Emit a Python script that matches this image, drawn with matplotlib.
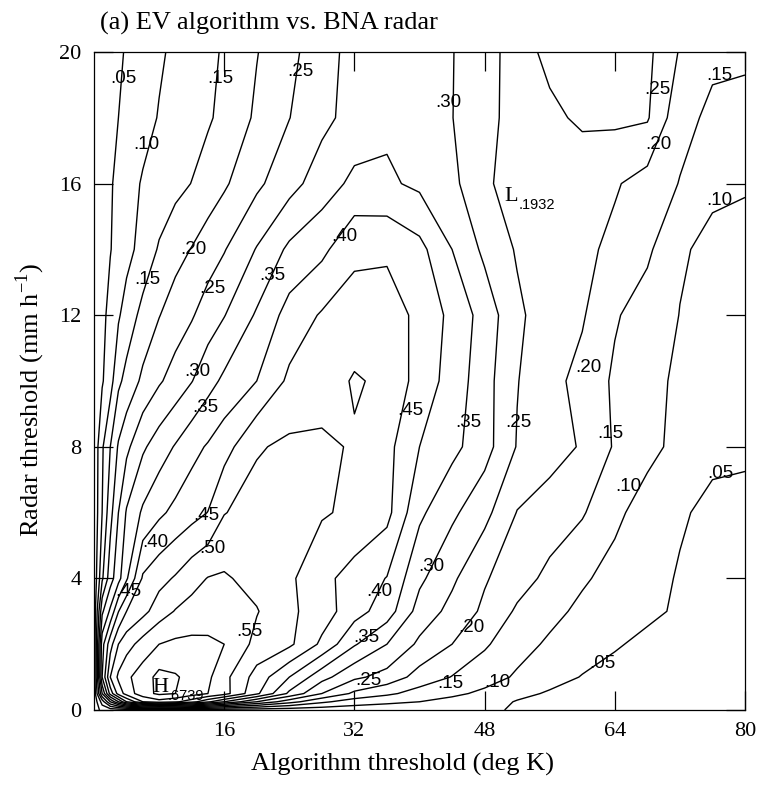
import matplotlib
matplotlib.use("Agg")
import numpy as np
import matplotlib.pyplot as plt

# ---- data ---------------------------------------------------------------
# columns: algorithm threshold (deg K), rows: radar threshold (mm/h)
algo_thresh = [0, 1, 2, 3, 4, 6, 8, 10, 12, 14, 16, 20, 24, 28, 32, 36, 40,
               44, 48, 52, 56, 60, 64, 68, 72, 76, 80]
radar_thresh = [0, 0.25, 0.5, 1, 2, 3, 4, 6, 8, 10, 12, 14, 16, 18, 20]

# skill score, one row per radar threshold (bottom to top)
score = [
    [.01, .07, .07, .07, .07, .07, .07, .07, .07, .07, .07, .07, .07, .07, .07, .07, .07, .07, .058, .045, .035, .03, .03, .03, .03, .03, .03],
    [.01, .12, .25, .35, .45, .55, .58, .56, .52, .46, .40, .30, .22, .16, .125, .11, .10, .085, .07, .047, .04, .035, .032, .03, .03, .03, .03],
    [.01, .25, .42, .52, .57, .63, .66, .65, .625, .60, .57, .46, .34, .25, .19, .16, .13, .11, .09, .062, .045, .04, .035, .032, .03, .03, .03],
    [.01, .35, .50, .56, .59, .625, .665, .655, .635, .61, .565, .48, .40, .318, .26, .232, .18, .148, .12, .094, .067, .048, .04, .035, .032, .03, .03],
    [.01, .33, .43, .50, .53, .57, .60, .61, .612, .608, .60, .535, .51, .44, .355, .30, .24, .20, .157, .117, .093, .071, .053, .043, .036, .031, .03],
    [.01, .24, .31, .398, .45, .485, .525, .553, .568, .578, .58, .553, .51, .475, .42, .375, .28, .235, .19, .143, .113, .09, .072, .056, .046, .033, .03],
    [.01, .142, .228, .283, .343, .457, .484, .505, .532, .552, .556, .533, .509, .464, .43, .398, .31, .259, .205, .17, .138, .106, .085, .062, .047, .033, .03],
    [.01, .10, .183, .25, .305, .358, .39, .413, .432, .451, .498, .52, .52, .505, .49, .465, .36, .31, .265, .198, .175, .155, .11, .08, .054, .042, .04],
    [.01, .093, .15, .206, .238, .292, .325, .354, .384, .405, .43, .495, .51, .51, .495, .465, .40, .364, .32, .247, .222, .195, .145, .113, .087, .058, .056],
    [.01, .045, .08, .14, .165, .211, .244, .27, .298, .332, .36, .40, .46, .475, .505, .49, .43, .38, .32, .252, .215, .185, .142, .117, .09, .078, .07],
    [.01, .037, .065, .094, .122, .165, .198, .225, .245, .274, .298, .356, .42, .455, .47, .47, .44, .386, .33, .26, .222, .205, .155, .127, .099, .09, .08],
    [.01, .03, .048, .066, .083, .119, .155, .182, .202, .225, .247, .303, .36, .388, .44, .443, .415, .35, .289, .245, .23, .212, .188, .159, .105, .09, .085],
    [.01, .03, .045, .062, .078, .105, .121, .136, .151, .172, .193, .24, .282, .325, .362, .358, .34, .31, .267, .205, .215, .22, .205, .18, .148, .108, .104],
    [.01, .023, .037, .05, .061, .082, .103, .116, .13, .144, .163, .208, .249, .287, .318, .34, .328, .301, .268, .228, .24, .258, .26, .255, .165, .14, .137],
    [.01, .02, .032, .043, .054, .073, .093, .11, .124, .139, .155, .198, .235, .282, .315, .33, .325, .302, .268, .23, .262, .27, .27, .262, .196, .16, .157],
]

levels = [.05, .10, .15, .20, .25, .30, .35, .40, .45, .50, .55, .60, .65]

# contour labels where the original put them: level, x, y
label_level = [.05, .15, .25, .10, .30, .25, .20, .15, .10,
               .20, .15, .25, .35, .40, .30, .35, .45, .35, .25, .20, .15, .10, .05,
               .45, .40, .50, .45, .55, .40, .30, .35, .20, .25, .15, .10, .05]
label_x = [3.6, 15.5, 25.4, 6.4, 43.6, 69.2, 69.3, 76.9, 76.9,
           12.2, 6.6, 14.6, 21.9, 30.8, 12.7, 13.7, 38.9, 46.0, 52.1, 60.8, 63.5, 65.7, 77.0,
           13.8, 7.5, 14.5, 4.2, 19.1, 35.1, 41.4, 33.5, 46.4, 33.7, 43.8, 49.6, 62.5]
label_y = [19.2, 19.2, 19.4, 17.2, 18.45, 18.85, 17.2, 19.3, 15.5,
           14.0, 13.1, 12.8, 13.2, 14.4, 10.3, 9.2, 9.1, 8.75, 8.75, 10.4, 8.4, 6.8, 7.2,
           5.9, 5.1, 4.9, 3.6, 2.4, 3.6, 4.35, 2.2, 2.5, 0.9, 0.8, 0.85, 1.4]

# extremes marked on the original: letter, x, y, value
extremes = [("H", 8.1, 0.67, .6739), ("L", 51.3, 15.6, .1932)]

x_ticks = [16, 32, 48, 64, 80]
y_ticks = [0, 4, 8, 12, 16, 20]

# ---- plot ------------------------------------------------------------------
serif = "Liberation Serif"
sans = "Liberation Sans"

fig = plt.figure(figsize=(7.63, 7.85), dpi=100)
ax = fig.add_axes([94 / 763, 75 / 785, 651 / 763, 658 / 785])

X, Y = np.meshgrid(algo_thresh, radar_thresh)
Z = np.array(score)
ax.contour(X, Y, Z, levels=levels, colors="black", linewidths=1.0)

for lev, lx, ly in zip(label_level, label_x, label_y):
    ax.text(lx, ly, f"{lev:.2f}"[1:], ha="center", va="center",
            fontsize=13.5, family=sans)

for letter, ex, ey, val in extremes:
    ax.text(ex, ey, letter, ha="center", va="center", fontsize=16, family=serif)
    ax.text(ex + 0.9, ey - 0.25, f"{val:.4f}"[1:], ha="left", va="center",
            fontsize=10.5, family=sans)

ax.set_xlim(0, 80)
ax.set_ylim(0, 20)
ax.set_xticks(x_ticks)
ax.set_yticks(y_ticks)
ax.tick_params(direction="in", length=14, width=0.9, top=True, right=True,
               labelsize=16, pad=9)
for lab in ax.get_xticklabels() + ax.get_yticklabels():
    lab.set_family(serif)
for sp in ax.spines.values():
    sp.set_linewidth(0.9)

fig.text(100 / 763, 1 - 30 / 785, "(a) EV algorithm vs. BNA radar",
         fontsize=19, family=serif, ha="left", va="baseline")
fig.text(403 / 763, 1 - 771 / 785, "Algorithm threshold (deg K)",
         fontsize=19, family=serif, ha="center", va="baseline")
fig.text(30 / 763, 1 - 400 / 785, "Radar threshold (mm h$^{\\mathregular{-1}}$)",
         fontsize=19, family=serif, ha="center", va="center", rotation=90)

fig.savefig("out.png", dpi=100)
